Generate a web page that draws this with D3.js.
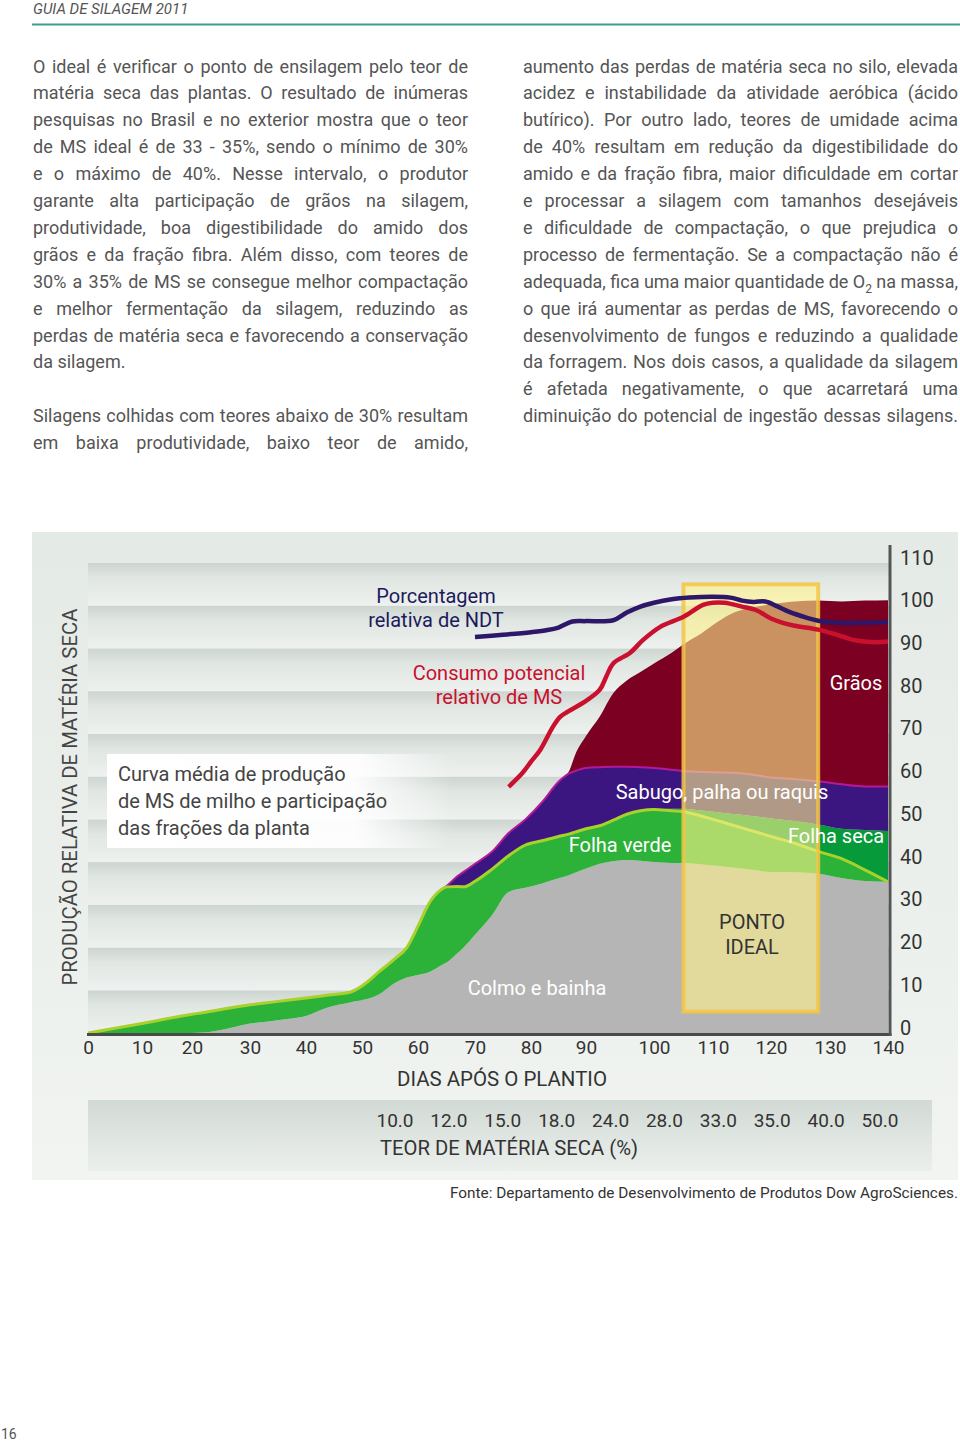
<!DOCTYPE html>
<html><head><meta charset="utf-8">
<script src="https://cdn.jsdelivr.net/npm/d3@7"></script>
<style>body{margin:0;background:#fff}svg{display:block}</style>
</head><body>
<script>
// ---------- DATA ----------
const days = [0,10,20,22,25,30,35,40,44,48,51,53,56,58,60,62,64,65,67,68,70,73,76,79,82,85,87,88,90,92,94,96,98,100,103,105,108,110,113,116,120,124,128,132,136,140];
const colmo = [0,0,0,0.1,0.7,2.2,3.0,4.0,6.0,7.2,8.0,9.0,11.8,13.0,13.6,14.3,15.8,16.5,18.8,20,23,27.5,33,34,35,36.2,37,37.5,38.5,39.6,40.2,40.5,40.3,40,39.8,39.8,39.5,39.2,38.8,38.3,37.7,37.6,37.3,36.3,35.6,35.4];
const folhaVerde = [0,2.2,4.4,4.7,4.8,4.4,4.4,4.2,2.9,2.4,4.0,5.3,5.7,7.0,11.4,16.2,17.7,17.7,15.5,14.2,12.5,10.8,8.5,10,10,9.8,9.6,9.5,9.3,8.9,9.6,10.7,11.7,12.3,12.2,12,11.3,10.8,10,9.3,8.3,6.8,5.2,4.5,2.6,0];
const folhaSeca = [0,0,0,0,0,0,0,0,0,0,0,0,0,0,0,0,0,0,0,0,0,0,0,0,0,0,0,0,0,0,0,0,0,0,0.5,0.7,1.3,1.8,2.5,3.3,4.2,5.2,6.3,7.0,9.3,11.9];
const sabugo = [0,0,0,0,0,0,0,0,0,0,0,0,0,0,0,0,0,0.2,2.5,3.5,4.1,4.1,5.3,6.0,9.0,12.8,14.2,14.3,14.2,13.7,12.5,11.1,10.2,9.7,9.1,8.8,9.0,9.2,9.6,9.7,9.6,9.8,10.1,10.4,10.2,10.4];
const graos = [0,0,0,0,0,0,0,0,0,0,0,0,0,0,0,0,0,0,0,0,0,0,0,0,0,0,0.7,3.7,7.5,11.8,17.2,20.2,22.3,24.5,27.4,29.7,32.4,34.5,37.1,38.8,40.5,41.6,42.3,42.8,43.5,43.6];

const ndtDays = [70,75,80,83,85,87.5,90,94,96,98,100,103,106,110,113,115,117,119,121,123,126,128,132,136,140];
const ndtValues = [92.7,93.2,93.8,94.3,94.9,96.3,96.4,96.6,98.4,99.8,100.7,101.5,101.9,102.1,101.9,101.2,100.9,101,99.9,98.6,97.2,96.5,96,96,96.2];

const consumoDays = [76,78.5,80,81.7,84,85.3,86.7,89.5,92,93,94,96.5,98.4,101,105,108.3,110,112,115,117.4,120,122,124,128,131,134,137,140];
const consumoValues = [57.6,60.9,63.5,66.3,71.7,74,75.2,77.3,80.3,83.5,86.5,89,92,95,97.4,100.2,100.7,100.7,99.8,99,97,96,95.3,94.4,93.3,92,91.5,91.6];

const idealDays = [105, 128];
const idealRange = [5, 105];

const xTickValues = [0,10,20,30,40,50,60,70,80,90,100,110,120,130,140];
const yTickValues = [0,10,20,30,40,50,60,70,80,90,100,110];
const msLabels = ["10.0","12.0","15.0","18.0","24.0","28.0","33.0","35.0","40.0","50.0"];

const leftText = [
 "O ideal é verificar o ponto de ensilagem pelo teor de",
 "matéria seca das plantas. O resultado de inúmeras",
 "pesquisas no Brasil e no exterior mostra que o teor",
 "de MS ideal é de 33 - 35%, sendo o mínimo de 30%",
 "e o máximo de 40%. Nesse intervalo, o produtor",
 "garante alta participação de grãos na silagem,",
 "produtividade, boa digestibilidade do amido dos",
 "grãos e da fração fibra. Além disso, com teores de",
 "30% a 35% de MS se consegue melhor compactação",
 "e melhor fermentação da silagem, reduzindo as",
 "perdas de matéria seca e favorecendo a conservação",
 "da silagem.",
 "",
 "Silagens colhidas com teores abaixo de 30% resultam",
 "em baixa produtividade, baixo teor de amido,"
];
const rightText = [
 "aumento das perdas de matéria seca no silo, elevada",
 "acidez e instabilidade da atividade aeróbica (ácido",
 "butírico). Por outro lado, teores de umidade acima",
 "de 40% resultam em redução da digestibilidade do",
 "amido e da fração fibra, maior dificuldade em cortar",
 "e processar a silagem com tamanhos desejáveis",
 "e dificuldade de compactação, o que prejudica o",
 "processo de fermentação. Se a compactação não é",
 "adequada, fica uma maior quantidade de O|2| na massa,",
 "o que irá aumentar as perdas de MS, favorecendo o",
 "desenvolvimento de fungos e reduzindo a qualidade",
 "da forragem. Nos dois casos, a qualidade da silagem",
 "é afetada negativamente, o que acarretará uma",
 "diminuição do potencial de ingestão dessas silagens."
];
const unjustified = ["da silagem."];

// ---------- LAYOUT ----------
const W = 960, H = 1443;
const FONT = "Roboto, 'Liberation Sans', Arial, sans-serif";
const svg = d3.select("body").append("svg").attr("width", W).attr("height", H)
  .style("font-family", FONT);
const defs = svg.append("defs");

function vgrad(id, stops) {
  const g = defs.append("linearGradient").attr("id", id).attr("x1",0).attr("y1",0).attr("x2",0).attr("y2",1);
  stops.forEach(s => g.append("stop").attr("offset", s[0]).attr("stop-color", s[1]).attr("stop-opacity", s[2] ?? 1));
}
vgrad("panelG", [[0,"#e4eae5"],[1,"#f1f4f1"]]);
vgrad("bandG", [[0,"#cdd5d0"],[0.35,"#e0e6e2"],[1,"#eef1ef"]]);
vgrad("lowG", [[0,"#d2dad5"],[1,"#ebefec"]]);
const hg = defs.append("linearGradient").attr("id","whiteG").attr("x1",0).attr("y1",0).attr("x2",1).attr("y2",0);
[[0,1],[0.72,0.92],[1,0]].forEach(s => hg.append("stop").attr("offset",s[0]).attr("stop-color","#fff").attr("stop-opacity",s[1]));

// header
svg.append("text").attr("x",33).attr("y",14).attr("font-size",15).attr("font-style","italic")
  .attr("fill","#555").text("GUIA DE SILAGEM 2011");
svg.append("line").attr("x1",32).attr("x2",960).attr("y1",24.5).attr("y2",24.5)
  .attr("stroke","#3f9e8b").attr("stroke-width",2);

// body text (justified by word spacing)
function column(lines, x0, width) {
  lines.forEach((ln, i) => {
    if (!ln) return;
    const t = svg.append("text").attr("x", x0).attr("y", 72.5 + 26.9 * i)
      .attr("font-size", 18).attr("fill", "#555");
    const parts = ln.split("|");
    parts.forEach((p, k) => {
      if (k % 2 === 1) t.append("tspan").attr("font-size", 12).attr("dy", 5).text(p);
      else t.append("tspan").attr("dy", k ? -5 : 0).text(p);
    });
    if (!unjustified.includes(ln)) {
      const natural = t.node().getComputedTextLength();
      const spaces = (ln.match(/ /g) || []).length;
      if (spaces > 0) {
        const ws = (width - natural) / spaces;
        t.attr("word-spacing", ws);
        const after = t.node().getComputedTextLength();
        if (Math.abs(after - width) > 2) t.attr("textLength", width).attr("lengthAdjust", "spacing");
      }
    }
  });
}
column(leftText, 33, 435);
column(rightText, 523, 435);

// panel
svg.append("rect").attr("x",32).attr("y",532).attr("width",926).attr("height",648).attr("fill","url(#panelG)");

const x = d3.scaleLinear().domain(xTickValues)
  .range([88,142,192,250,306,362,418,475,531,586,654,713,771,830,888]);
const y = d3.scaleLinear().domain([0,110]).range([1033,563]);

// stripes
svg.append("g").selectAll("rect").data(d3.range(0,110,10)).join("rect")
  .attr("x", x(0)).attr("width", x(140) + 2 - x(0))
  .attr("y", d => y(d + 10)).attr("height", d => y(d) - y(d + 10))
  .attr("fill", "url(#bandG)");

// white legend box
svg.append("rect").attr("x",107).attr("y",754).attr("width",345).attr("height",94).attr("fill","url(#whiteG)");
const leg = ["Curva média de produção","de MS de milho e participação","das frações da planta"];
svg.append("g").selectAll("text").data(leg).join("text")
  .attr("x",118).attr("y",(d,i)=>781 + 27*i).attr("font-size",20).attr("fill","#444").text(d=>d);

// stacked areas
const keys = ["colmo","folhaVerde","folhaSeca","sabugo","graos"];
const colors = {colmo:"#b5b5b5", folhaVerde:"#2db239", folhaSeca:"#079a3b", sabugo:"#3b1680", graos:"#7b0022"};
const rows = days.map((d,i)=>({day:d, colmo:colmo[i], folhaVerde:folhaVerde[i], folhaSeca:folhaSeca[i], sabugo:sabugo[i], graos:graos[i]}));
const series = d3.stack().keys(keys)(rows);
const area = d3.area().x(d=>x(d.data.day)).y0(d=>y(d[0])).y1(d=>y(d[1])).curve(d3.curveMonotoneX);
svg.append("g").selectAll("path").data(series).join("path")
  .attr("d", area).attr("fill", s => colors[s.key]);

const topLine = d3.line().x(d=>x(d.data.day)).y(d=>y(d[1])).curve(d3.curveMonotoneX);
svg.append("path").attr("d", topLine.defined(d=>d.data.day>=64)(series[3]))
  .attr("fill","none").attr("stroke","#b4199c").attr("stroke-width",2);
svg.append("path").attr("d", d3.line().x(d=>x(d.data.day)).y(d=>y(d[1])).curve(d3.curveMonotoneX)(series[1]))
  .attr("fill","none").attr("stroke","#a9d12c").attr("stroke-width",3);

// ideal box
svg.append("rect").attr("x", x(idealDays[0])).attr("width", x(idealDays[1]) - x(idealDays[0]))
  .attr("y", y(idealRange[1])).attr("height", y(idealRange[0]) - y(idealRange[1]))
  .attr("fill","#fff38c").attr("fill-opacity",0.6)
  .attr("stroke","#f3c646").attr("stroke-opacity",0.85).attr("stroke-width",4);

// lines
const lineGen = d3.line().x(d=>x(d[0])).y(d=>y(d[1])).curve(d3.curveCatmullRom.alpha(0.5));
svg.append("path").attr("d", lineGen(ndtDays.map((d,i)=>[d,ndtValues[i]])))
  .attr("fill","none").attr("stroke","#2c1768").attr("stroke-width",4.5).attr("stroke-linejoin","round");
svg.append("path").attr("d", lineGen(consumoDays.map((d,i)=>[d,consumoValues[i]])))
  .attr("fill","none").attr("stroke","#c9102f").attr("stroke-width",4.5).attr("stroke-linejoin","round");

// axes
const xAxis = svg.append("g").attr("transform","translate(0,1034)")
  .call(d3.axisBottom(x).tickValues(xTickValues).tickSize(0).tickPadding(7).tickFormat(d3.format("d")));
xAxis.select(".domain").remove();
xAxis.selectAll("text").attr("font-size",19).attr("fill","#333").attr("font-family",FONT);
svg.append("line").attr("x1",87).attr("x2",891.5).attr("y1",1034.5).attr("y2",1034.5)
  .attr("stroke","#4a4a4a").attr("stroke-width",3);

const yAxis = svg.append("g").attr("transform","translate(890,0)")
  .call(d3.axisRight(y).tickValues(yTickValues).tickSize(0).tickPadding(10));
yAxis.select(".domain").remove();
yAxis.selectAll("text").attr("font-size",20).attr("fill","#333").attr("dy","0.05em").attr("font-family",FONT);
svg.append("line").attr("x1",890).attr("x2",890).attr("y1",545).attr("y2",1036)
  .attr("stroke","#555").attr("stroke-width",3);

svg.append("text").attr("transform","translate(70,797) rotate(-90)").attr("text-anchor","middle")
  .attr("dominant-baseline","central").attr("font-size",20).attr("fill","#444")
  .attr("textLength",377).attr("lengthAdjust","spacingAndGlyphs").text("PRODUÇÃO RELATIVA DE MATÉRIA SECA");

svg.append("text").attr("x",502).attr("y",1086).attr("text-anchor","middle").attr("font-size",20)
  .attr("fill","#333").attr("textLength",210).attr("lengthAdjust","spacingAndGlyphs").text("DIAS APÓS O PLANTIO");

// chart labels
function label(txt, cx, cy, color, size=20, anchor="middle") {
  svg.append("text").attr("x",cx).attr("y",cy).attr("text-anchor",anchor)
    .attr("dominant-baseline","central").attr("font-size",size).attr("fill",color).text(txt);
}
label("Porcentagem", 436, 596, "#1d1a5c");
label("relativa de NDT", 436, 620, "#1d1a5c");
label("Consumo potencial", 499, 673, "#c8102e");
label("relativo de MS", 499, 697, "#c8102e");
label("Grãos", 856, 683, "#fff");
label("Sabugo, palha ou raquis", 722, 792, "#fff");
label("Folha verde", 620, 845, "#fff");
label("Folha seca", 836, 836, "#fff");
label("Colmo e bainha", 537, 988, "#fff");
label("PONTO", 752, 922, "#333");
label("IDEAL", 752, 947, "#333");

// lower band: teor de matéria seca
svg.append("rect").attr("x",88).attr("y",1100).attr("width",844).attr("height",71).attr("fill","url(#lowG)");
const ms = d3.scalePoint().domain(msLabels).range([395,880]);
svg.append("g").selectAll("text").data(msLabels).join("text")
  .attr("x", d => ms(d)).attr("y",1120).attr("text-anchor","middle").attr("dominant-baseline","central")
  .attr("font-size",19).attr("fill","#333").text(d=>d);
svg.append("text").attr("x",380).attr("y",1155).attr("font-size",20).attr("fill","#333")
  .attr("textLength",258).attr("lengthAdjust","spacingAndGlyphs").text("TEOR DE MATÉRIA SECA (%)");

svg.append("text").attr("x",958).attr("y",1198).attr("text-anchor","end").attr("font-size",15)
  .attr("fill","#333").attr("textLength",508).attr("lengthAdjust","spacingAndGlyphs")
  .text("Fonte: Departamento de Desenvolvimento de Produtos Dow AgroSciences.");

svg.append("text").attr("x",1).attr("y",1439).attr("font-size",14).attr("fill","#555").text("16");
</script>
</body></html>
